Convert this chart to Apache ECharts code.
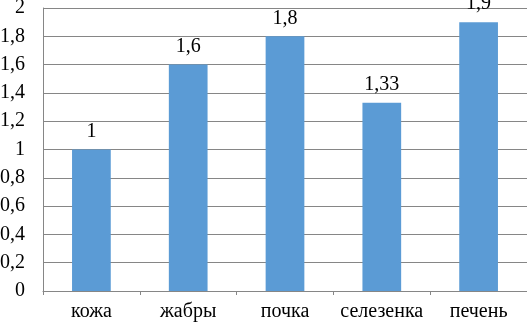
<!DOCTYPE html>
<html><head><meta charset="utf-8">
<script src="https://cdn.jsdelivr.net/npm/echarts@6/dist/echarts.min.js"></script>
<style>html,body{margin:0;padding:0;background:#fff}#c{width:527px;height:327px}</style>
</head><body><div id="c"></div>
<script>
const categories = ['кожа', 'жабры', 'почка', 'селезенка', 'печень'];
const values = [1, 1.6, 1.8, 1.33, 1.9];
const yMin = 0, yMax = 2, yStep = 0.2;
const fmt = v => String(Math.round(v * 100) / 100).replace('.', ',');
const font = 'Liberation Serif';
const chart = echarts.init(document.getElementById('c'));
chart.setOption({
  animation: false,
  grid: { left: 43, right: 0, top: 8, bottom: 36, containLabel: false, outerBoundsMode: 'none' },
  xAxis: {
    type: 'category', data: categories,
    axisLine: { lineStyle: { color: '#868686', width: 1 } },
    axisTick: { show: true, alignWithLabel: false, length: 4, lineStyle: { color: '#868686' } },
    axisLabel: { interval: 0, color: '#000', fontFamily: font, fontSize: 20, margin: 11 }
  },
  yAxis: {
    type: 'value', min: yMin, max: yMax, interval: yStep,
    axisLine: { show: true, lineStyle: { color: '#868686', width: 1 } },
    axisTick: { show: false },
    splitLine: { lineStyle: { color: '#868686', width: 1 } },
    axisLabel: { color: '#000', fontFamily: font, fontSize: 20, margin: 18, formatter: fmt }
  },
  series: [{
    type: 'bar', data: values, barWidth: '40%',
    itemStyle: { color: '#5B9BD5' },
    label: { show: true, position: 'top', distance: 8, color: '#000', fontFamily: font, fontSize: 20, formatter: p => fmt(p.value) }
  }]
});
</script></body></html>
